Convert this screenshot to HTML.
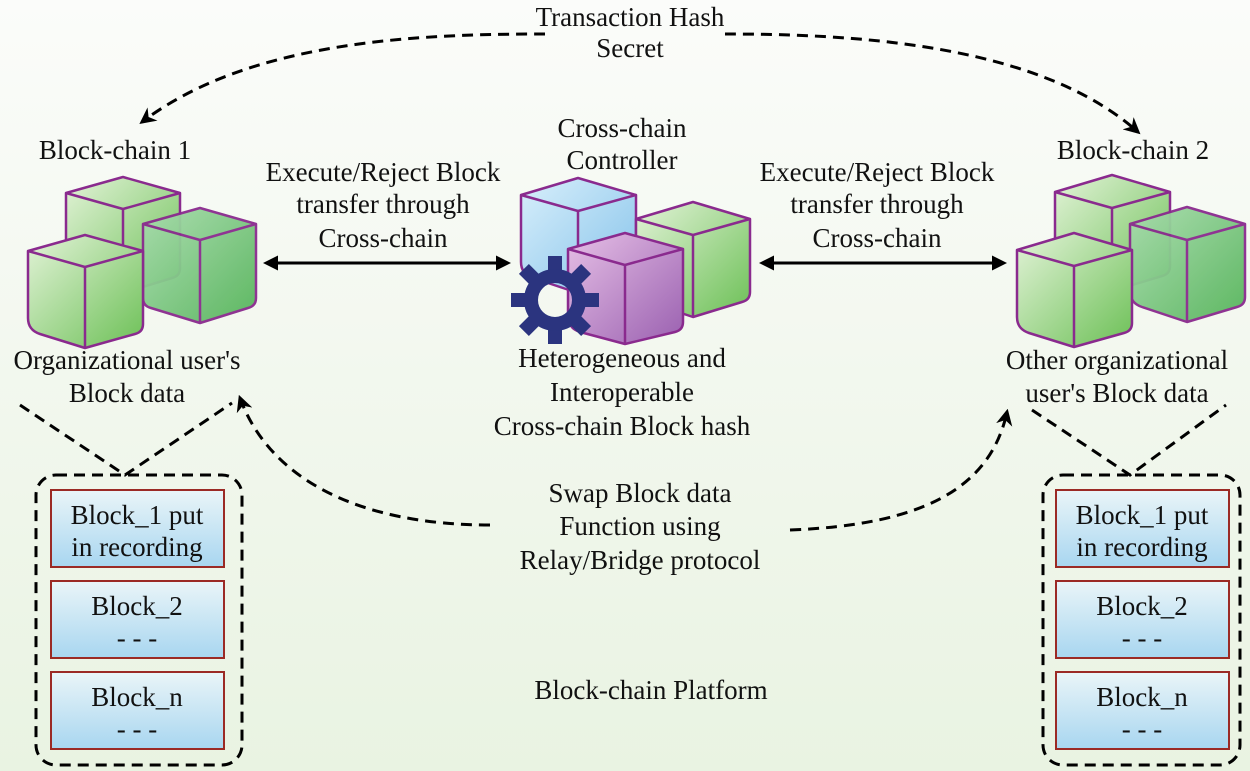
<!DOCTYPE html>
<html><head><meta charset="utf-8"><style>
html,body{margin:0;padding:0;width:1250px;height:771px;overflow:hidden}
svg{display:block}
text{font-family:"Liberation Serif","Times New Roman",serif;font-size:27px;fill:#111;text-anchor:middle}
</style></head><body>
<svg width="1250" height="771" viewBox="0 0 1250 771" xmlns="http://www.w3.org/2000/svg">
<defs>
<linearGradient id="bg" x1="0" y1="0" x2="0" y2="1"><stop offset="0" stop-color="#fbfcfa"/><stop offset="1" stop-color="#e9f3e2"/></linearGradient>
<linearGradient id="gr" x1="0" y1="0" x2="1" y2="1"><stop offset="0" stop-color="#e3f3d8"/><stop offset="1" stop-color="#6cc056"/></linearGradient>
<linearGradient id="gr2" x1="0" y1="0" x2="1" y2="1"><stop offset="0" stop-color="#a9dcae"/><stop offset="1" stop-color="#55b45a"/></linearGradient>
<linearGradient id="bl" x1="0" y1="0" x2="1" y2="1"><stop offset="0" stop-color="#d8effb"/><stop offset="1" stop-color="#84c2ea"/></linearGradient>
<linearGradient id="pu" x1="0" y1="0" x2="1" y2="1"><stop offset="0" stop-color="#e6c0e6"/><stop offset="1" stop-color="#9a60b0"/></linearGradient>
<linearGradient id="bx" x1="0" y1="0" x2="0" y2="1"><stop offset="0" stop-color="#eaf5f8"/><stop offset="1" stop-color="#a8d6f0"/></linearGradient>
<marker id="ah" viewBox="0 0 10 10" refX="8" refY="5" markerWidth="5" markerHeight="5" orient="auto-start-reverse"><path d="M0,0 L10,5 L0,10 z" fill="#000"/></marker>
<marker id="ah2" viewBox="0 0 10 10" refX="8" refY="5" markerWidth="5.5" markerHeight="5.5" orient="auto"><path d="M0,0 L10,5 L0,10 L3,5 z" fill="#000"/></marker>
</defs>
<rect width="1250" height="771" fill="url(#bg)"/>

<g stroke="#8a2a8e" stroke-width="2.5" stroke-linejoin="round">
<!-- left group -->
<g fill="url(#gr)">
<path d="M66,193 L123,177 L180,193 L180,268 Q180,276 172,278 L123,293 L74,278 Q66,276 66,268 Z"/>
<path d="M66,193 L123,209 L180,193 M123,209 L123,293" fill="none"/>
</g>
<g fill="url(#gr2)" opacity="0.95">
<path d="M143,224 L200,208 L256,224 L256,298 Q256,306 248,308 L200,323 L151,308 Q143,306 143,298 Z"/>
<path d="M143,224 L200,240 L256,224 M200,240 L200,323" fill="none"/>
</g>
<g fill="url(#gr)">
<path d="M28,251 L85,235 L143,251 L143,324 Q143,332 135,334 L85,348 L40,334 Q28,330 28,318 Z"/>
<path d="M28,251 L85,267 L143,251 M85,267 L85,348" fill="none"/>
</g>
<!-- center group -->
<g fill="url(#bl)">
<path d="M521,195 L578,178 L636,195 L636,268 Q636,276 628,278 L578,293 L533,278 Q521,274 521,262 Z"/>
<path d="M521,195 L578,211 L636,195 M578,211 L578,293" fill="none"/>
</g>
<g fill="url(#gr)">
<path d="M636,219 L693,202 L750,219 L750,292 Q750,300 742,302 L693,317 L648,302 Q636,298 636,286 Z"/>
<path d="M636,219 L693,235 L750,219 M693,235 L693,317" fill="none"/>
</g>
<g fill="url(#pu)">
<path d="M568,249 L625,233 L683,249 L683,322 Q683,330 675,332 L625,344 L580,332 Q568,328 568,316 Z"/>
<path d="M568,249 L625,265 L683,249 M625,265 L625,344" fill="none"/>
</g>
<!-- right group -->
<g fill="url(#gr)">
<path d="M1055,192 L1112,175 L1170,192 L1170,266 Q1170,274 1162,276 L1112,291 L1063,276 Q1055,274 1055,266 Z"/>
<path d="M1055,192 L1112,208 L1170,192 M1112,208 L1112,291" fill="none"/>
</g>
<g fill="url(#gr2)" opacity="0.95">
<path d="M1130,224 L1187,207 L1245,224 L1245,297 Q1245,305 1237,307 L1187,322 L1142,307 Q1130,303 1130,291 Z"/>
<path d="M1130,224 L1187,240 L1245,224 M1187,240 L1187,322" fill="none"/>
</g>
<g fill="url(#gr)">
<path d="M1017,250 L1074,233 L1132,250 L1132,323 Q1132,331 1124,333 L1074,347 L1029,333 Q1017,329 1017,317 Z"/>
<path d="M1017,250 L1074,266 L1132,250 M1074,266 L1074,347" fill="none"/>
</g>
</g>

<!-- gear -->
<g transform="translate(555,300)" fill="#2b347f">
<rect x="-7" y="-44" width="14" height="20"/>
<rect x="-7" y="-44" width="14" height="20" transform="rotate(45)"/>
<rect x="-7" y="-44" width="14" height="20" transform="rotate(90)"/>
<rect x="-7" y="-44" width="14" height="20" transform="rotate(135)"/>
<rect x="-7" y="-44" width="14" height="20" transform="rotate(180)"/>
<rect x="-7" y="-44" width="14" height="20" transform="rotate(225)"/>
<rect x="-7" y="-44" width="14" height="20" transform="rotate(270)"/>
<rect x="-7" y="-44" width="14" height="20" transform="rotate(315)"/>
<circle r="24" fill="none" stroke="#2b347f" stroke-width="14"/>
</g>

<!-- connectors -->
<g fill="none" stroke="#000" stroke-width="3" stroke-dasharray="11,7">
<path d="M545,34 C420,34 250,40 142,122" marker-end="url(#ah2)"/>
<path d="M725,34 C860,34 1040,45 1138,132" marker-end="url(#ah2)"/>
<path d="M490,525 C360,525 270,480 240,398" marker-end="url(#ah2)"/>
<path d="M790,530 C920,525 990,490 1007,412" marker-end="url(#ah2)"/>
<path d="M20,405 L125,475 L232,403"/>
<path d="M1032,410 L1130,475 L1226,405"/>
<rect x="36" y="475" width="206" height="290" rx="20"/>
<rect x="1043" y="475" width="197" height="290" rx="20"/>
</g>
<g stroke="#000" stroke-width="3">
<line x1="266" y1="263" x2="508" y2="263" marker-start="url(#ah)" marker-end="url(#ah)"/>
<line x1="762" y1="263" x2="1004" y2="263" marker-start="url(#ah)" marker-end="url(#ah)"/>
</g>

<g fill="url(#bx)" stroke="#9b2a25" stroke-width="2">
<rect x="51" y="490" width="173" height="77"/>
<rect x="51" y="581" width="173" height="77"/>
<rect x="51" y="672" width="173" height="77"/>
<rect x="1056" y="490" width="173" height="77"/>
<rect x="1056" y="581" width="173" height="77"/>
<rect x="1056" y="672" width="173" height="77"/>
</g>

<text x="630" y="26">Transaction Hash</text>
<text x="630" y="57">Secret</text>
<text x="115" y="159">Block-chain 1</text>
<text x="622" y="137">Cross-chain</text>
<text x="622" y="169">Controller</text>
<text x="1133" y="159">Block-chain 2</text>
<text x="383" y="181">Execute/Reject Block</text>
<text x="383" y="213">transfer through</text>
<text x="383" y="247">Cross-chain</text>
<text x="877" y="181">Execute/Reject Block</text>
<text x="877" y="213">transfer through</text>
<text x="877" y="247">Cross-chain</text>
<text x="127" y="369">Organizational user's</text>
<text x="127" y="402">Block data</text>
<text x="622" y="367">Heterogeneous and</text>
<text x="622" y="401">Interoperable</text>
<text x="622" y="435">Cross-chain Block hash</text>
<text x="1117" y="369">Other organizational</text>
<text x="1117" y="402">user's Block data</text>
<text x="640" y="502">Swap Block data</text>
<text x="640" y="535">Function using</text>
<text x="640" y="569">Relay/Bridge protocol</text>
<text x="651" y="699">Block-chain Platform</text>
<text x="137" y="524">Block_1 put</text>
<text x="137" y="556">in recording</text>
<text x="137" y="615">Block_2</text>
<text x="137" y="647">- - -</text>
<text x="137" y="706">Block_n</text>
<text x="137" y="738">- - -</text>
<text x="1142" y="524">Block_1 put</text>
<text x="1142" y="556">in recording</text>
<text x="1142" y="615">Block_2</text>
<text x="1142" y="647">- - -</text>
<text x="1142" y="706">Block_n</text>
<text x="1142" y="738">- - -</text>
</svg>
</body></html>
